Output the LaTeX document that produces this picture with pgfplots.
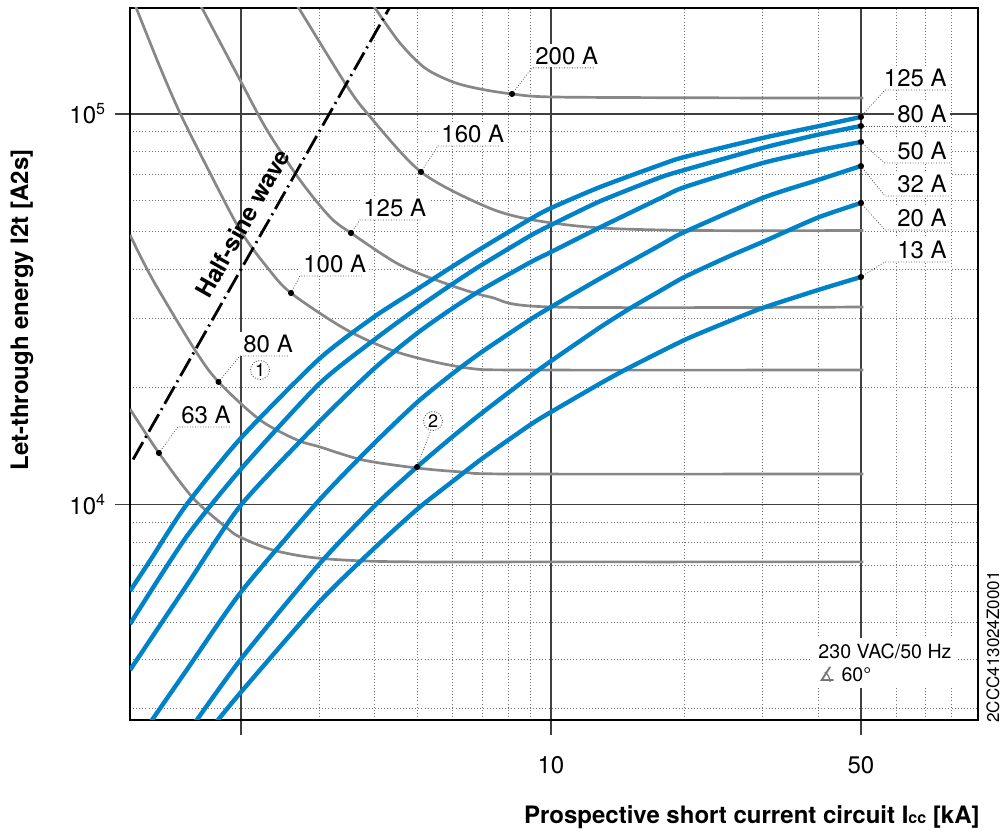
\documentclass[border=0pt]{standalone}
\usepackage{fontspec}
\setmainfont{TeX Gyre Heros}
\newfontfamily\dejavu{DejaVu Sans}
\usepackage{pgfplots}
\pgfplotsset{compat=1.18}
\definecolor{abbblue}{RGB}{0,130,200}
\definecolor{fusegray}{RGB}{135,135,135}
\newcommand{\lbl}{\fontsize{12}{14.4}\selectfont}
\tikzset{
  fusecurve/.style={fusegray, line width=1.35pt, smooth, tension=0.5},
  mcbcurve/.style={abbblue, line width=2.2pt, line join=round, smooth, tension=0.4},
  leader/.style={black!70, line width=0.4pt, dash pattern=on 0.4pt off 0.9pt},
  lab/.style={fill=white, inner sep=1.5pt, font=\lbl},
  circnum/.style={circle, draw=black!70, dash pattern=on 0.5pt off 0.8pt, inner sep=0.5pt, minimum size=8.5pt, fill=white, font=\fontsize{9}{10}\selectfont},
}
\begin{document}
\begin{tikzpicture}
\begin{loglogaxis}[
  name=ax,
  scale only axis,
  width=424pt, height=356pt,
  xmin=1.124, xmax=91.8, ymin=2807, ymax=186800,
  xtick={2,10,50}, xticklabels={,10,50},
  minor xtick={3,4,5,6,7,8,9,20,30,40,60,70,80},
  ytick={10000,100000}, yticklabels={10\textsuperscript{4},10\textsuperscript{5}},
  minor ytick={3000,4000,5000,6000,7000,8000,9000,20000,30000,40000,50000,60000,70000,80000,90000},
  grid=both,
  major grid style={black!75, line width=0.8pt},
  minor grid style={black!55, line width=0.45pt, dash pattern=on 0.45pt off 1.1pt},
  tick align=outside, tick pos=left,
  major tick length=7.5pt, minor tick length=0pt,
  major tick style={black!75, line width=0.8pt},
  axis line style={black, line width=0.9pt},
  ticklabel style={font=\lbl},
  xticklabel style={yshift=-7.5pt},
  yticklabel style={xshift=-1pt},
]
% fuse curves (gray)
\addplot[fusecurve] coordinates {(1.124,17560) (1.306,13550) (1.559,10390) (1.86,8706) (1.99,8255) (2.361,7646) (2.968,7295) (4.335,7140) (10,7130) (50.6,7130)};
\addplot[fusecurve] coordinates {(1.124,49000) (1.266,37570) (1.575,24860) (1.78,20600) (2.208,16460) (2.675,14630) (3.014,14040) (3.767,13000) (4.988,12400) (6.33,12110) (8.17,11970) (50.6,11970)};
\addplot[fusecurve] coordinates {(1.143,196000) (1.166,184600) (1.313,131940) (1.457,100600) (1.676,73170) (1.99,50470) (2.288,40570) (2.593,34790) (3.467,27980) (4.564,24430) (6.465,22370) (9.107,22100) (50.6,22100)};
\addplot[fusecurve] coordinates {(1.595,195800) (1.642,184600) (1.99,122210) (2.288,91010) (2.716,67760) (3.175,54470) (3.54,49570) (4.564,41060) (5.918,36480) (7.287,33990) (10.05,32040) (50.6,32040)};
\addplot[fusecurve] coordinates {(2.63,195800) (2.716,184600) (3.432,120050) (3.847,100600) (5.092,71050) (7.172,57770) (9.107,53530) (12.9,51070) (21.68,50300) (50.6,50300)};
\addplot[fusecurve] coordinates {(3.894,195800) (4.011,186750) (4.564,151990) (5.198,131130) (6.012,120740) (6.917,115880) (8.168,112520) (10.05,110540) (21.68,110000) (50.6,109800)};
% MCB let-through curves (blue): 125 A, 80 A, 50 A, 32 A, 20 A, 13 A
\addplot[mcbcurve] coordinates {(1.124,6004) (1.25,7211) (1.5,9913) (2,14810) (3,23580) (4,30280) (5,35630) (6,40710) (7,45420) (9,53880) (10,57430) (12.9,65000) (17.6,74000) (20,77590) (30,86790) (40,93000) (50,98240)};
\addplot[mcbcurve] coordinates {(1.124,4943) (1.5,8209) (2,12330) (3,20350) (4,26440) (5,31860) (6,36730) (7,41160) (9,48830) (10,51960) (12.9,59770) (17.6,68740) (20,71880) (30,81830) (40,88500) (50,93170)};
\addplot[mcbcurve] coordinates {(1.124,3769) (1.5,6146) (2,9970) (3,16270) (4,22330) (5,27490) (6,31810) (7,35550) (9,41750) (10,44310) (12.9,51230) (17.6,60780) (20,64960) (30,74890) (40,80630) (50,84790)};
\addplot[mcbcurve] coordinates {(1.2,2591) (1.5,3735) (2,5968) (3,10250) (4,14370) (5,18300) (6,21640) (7,24630) (9,29810) (10,32040) (12.9,37900) (17.6,46090) (20,49860) (30,60940) (40,67760) (50,73580)};
\addplot[mcbcurve] coordinates {(1.5,2556) (2,4022) (3,7030) (4,9913) (5,12510) (6,14920) (7,17180) (9,21360) (10,23300) (12.9,28420) (15.07,31780) (17.6,35210) (20,38240) (25,43020) (30,47010) (40,54300) (50,59170)};
\addplot[mcbcurve] coordinates {(1.7,2642) (2,3309) (3,5620) (4,7737) (5,9739) (6,11460) (7,13120) (9,16030) (10,17250) (12.9,20400) (15,22400) (20,26380) (25,29350) (30,31860) (40,35420) (50,38240)};
% half-sine wave
\addplot[black, line width=1.4pt, dash pattern=on 10pt off 2.5pt on 1pt off 2.5pt] coordinates {(1.142,13040) (4.4,193600)};
% dots
\addplot[only marks, mark=*, mark size=1.3pt, black] coordinates {(50,98240) (50,93170) (50,84790) (50,73580) (50,59170) (50,38240) (8.168,112520) (5.092,71050) (3.54,49570) (2.593,34790) (1.78,20600) (1.306,13550) (4.988,12470)};
% labels right
\node[lab, anchor=south east] at (79.4,115200) {125 A};
\node[lab, anchor=south east] at (79.4,93170) {80 A};
\node[lab, anchor=south east] at (79.4,74900) {50 A};
\node[lab, anchor=south east] at (79.4,61660) {32 A};
\node[lab, anchor=south east] at (79.4,50470) {20 A};
\node[lab, anchor=south east] at (79.4,41800) {13 A};
% labels left
\node[lab, anchor=south west] at (9.06,131200) {200 A};
\node[lab, anchor=south west] at (5.563,82800) {160 A};
\node[lab, anchor=south west] at (3.709,53500) {125 A};
\node[lab, anchor=south west] at (2.716,38470) {100 A};
\node[lab, anchor=south west] at (1.99,24000) {80 A};
\node[lab, anchor=south west] at (1.442,15800) {63 A};
% leaders
\addplot[leader] coordinates {(50,98240) (56.6,115200) (79.4,115200)};
\addplot[leader] coordinates {(50,93170) (79.4,93170)};
\addplot[leader] coordinates {(50,84790) (56.6,74900) (79.4,74900)};
\addplot[leader] coordinates {(50,73580) (56.6,61660) (79.4,61660)};
\addplot[leader] coordinates {(50,59170) (56.6,50470) (79.4,50470)};
\addplot[leader] coordinates {(50,38240) (56.6,41800) (79.4,41800)};
\addplot[leader] coordinates {(8.168,112520) (9.06,131200) (12.57,131200)};
\addplot[leader] coordinates {(5.092,71050) (5.563,82800) (7.674,82800)};
\addplot[leader] coordinates {(3.54,49570) (3.709,53500) (5.118,53500)};
\addplot[leader] coordinates {(2.593,34790) (2.716,38470) (3.748,38470)};
\addplot[leader] coordinates {(1.78,20600) (1.99,24000) (2.567,24000)};
\addplot[leader] coordinates {(1.306,13550) (1.442,15800) (1.889,15800)};
\addplot[leader] coordinates {(4.988,12470) (5.36,15520)};
% circled numbers
\node[circnum] at (2.208,22100) {1};
\node[circnum] at (5.42,16360) {2};
% half-sine label
\node[rotate=60.6, font=\bfseries\lbl] at (2.017,52440) {Half-sine wave};
% conditions
\node[anchor=west, fill=white, inner xsep=3pt, inner ysep=3pt, align=left, font=\fontsize{9.8}{11.5}\selectfont] at (38.8,3928) {230 VAC/50 Hz\\{\dejavu\color{black!55}∡} 60°};
\end{loglogaxis}
\node[rotate=90, inner sep=0pt, font=\bfseries\lbl] at ([shift={(-54pt,205pt)}]ax.south west) {Let-through energy I2t [A2s]};
\node[anchor=base east, inner sep=0pt, font=\bfseries\lbl] at ([shift={(425pt,-51.5pt)}]ax.south west) {Prospective short current circuit I{\fontsize{8}{9}\selectfont cc} [kA]};
\node[rotate=90, inner sep=0pt, font=\fontsize{8.5}{10}\selectfont] at ([shift={(431.5pt,36.5pt)}]ax.south west) {2CCC413024Z0001};
\pgfresetboundingbox
\path[use as bounding box] ([shift={(-65pt,-56pt)}]ax.south west) rectangle ([shift={(438pt,360pt)}]ax.south west);
\end{tikzpicture}
\end{document}
